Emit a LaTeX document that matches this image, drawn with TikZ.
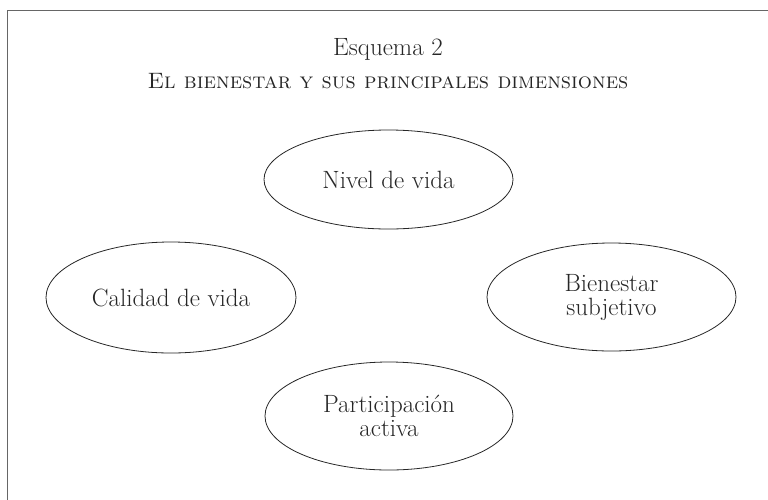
\documentclass[tikz,border=0pt]{standalone}
\usetikzlibrary{shapes.geometric}
\begin{document}
\begin{tikzpicture}[x=1pt,y=-1pt,
  dim/.style={draw=black!85, line width=0.8pt, ellipse, inner sep=0pt, align=center,
    font=\fontsize{25}{24}\selectfont, text=black!85},
  frameline/.style={draw=black!60, line width=1.8pt},
  titletext/.style={font=\fontsize{25}{24}\selectfont, text=black!85, inner sep=0pt}]
\useasboundingbox (0,0) rectangle (768,499);
\coordinate (fc) at (7.5,10.5);
\coordinate (fr) at (770,10.5);
\coordinate (fb) at (7.5,501);
\draw[frameline] (fr) -- (fc) -- (fb);
\node[titletext] (title) at (388,49) {Esquema 2};
\node[titletext, font=\fontsize{22.3}{24}\selectfont] (subtitle) at (388,81) {\textsc{El bienestar y sus principales dimensiones}};
\node[dim, minimum width=249pt, minimum height=99pt] (nivel) at (388.5,179.5) {Nivel de vida};
\node[dim, minimum width=250pt, minimum height=111pt] (calidad) at (171,297.5) {Calidad de vida};
\node[dim, minimum width=249pt, minimum height=108pt] (bien) at (611.5,297) {Bienestar\\subjetivo};
\node[dim, minimum width=248pt, minimum height=108pt] (part) at (389,416) {Participación\\activa};
\end{tikzpicture}
\end{document}
